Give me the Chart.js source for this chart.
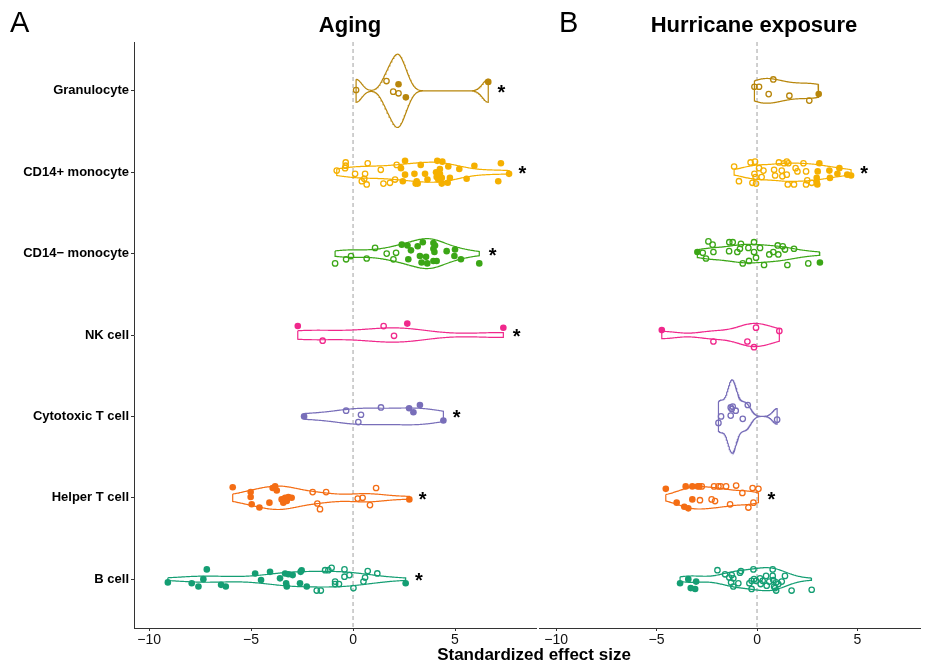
<!DOCTYPE html>
<html>
<head>
<meta charset="utf-8">
<script src="https://cdn.jsdelivr.net/npm/chart.js@4.4.1/dist/chart.umd.min.js"></script>
<style>
  body { margin: 0; background: #fff; }
  #wrap { position: relative; width: 925px; height: 667px; font-family: 'Liberation Sans', Arial, sans-serif; color: #000; }
  canvas { position: absolute; top: 0; }
  .lbl { position: absolute; white-space: nowrap; line-height: 1; }
</style>
</head>
<body>
<div id="wrap">
  <canvas id="canvas-a" width="537" height="667" style="left:0"></canvas>
  <canvas id="canvas-b" width="388" height="667" style="left:537px"></canvas>
  <div class="lbl" style="left:10px;top:8px;font-size:29px">A</div>
  <div class="lbl" style="left:559px;top:8px;font-size:29px">B</div>
  <div class="lbl" style="left:350px;top:14px;font-size:22px;font-weight:bold;transform:translateX(-50%)">Aging</div>
  <div class="lbl" style="left:754px;top:14px;font-size:22px;font-weight:bold;transform:translateX(-50%)">Hurricane exposure</div>
  <div class="lbl" style="left:534px;top:646px;font-size:17px;font-weight:bold;transform:translateX(-50%)">Standardized effect size</div>
</div>
<script>
// categories, top to bottom
const cellTypes = ['Granulocyte', 'CD14+ monocyte', 'CD14\u2212 monocyte', 'NK cell', 'Cytotoxic T cell', 'Helper T cell', 'B cell'];
const cellColors = ['#b8860b', '#f5b000', '#3ba616', '#f0288c', '#786eb9', '#f46d14', '#149e73'];
const xTicks = [-10, -5, 0, 5];

// points: [effect size, vertical jitter (category units), significant 1/0]
const agingGranulocyte = [[0.15,-0.01,0],[1.64,-0.12,0],[2.23,-0.08,1],[1.97,0.01,0],[2.23,0.03,0],[2.59,0.08,1],[6.63,-0.11,1]];
const agingCd14Pos = [
  [-0.80,-0.02,0],[-0.36,-0.12,0],[-0.36,-0.08,0],[-0.39,-0.05,0],[0.72,-0.11,0],[0.10,0.02,0],[0.59,0.02,0],[0.55,0.08,0],
  [0.43,0.11,0],[0.67,0.15,0],[1.36,-0.03,0],[1.49,0.14,0],[1.81,0.13,0],[2.06,0.09,0],[2.14,-0.09,0],
  [2.55,-0.14,1],[2.35,-0.05,1],[2.55,0.03,1],[2.44,0.11,1],[3.12,0.11,1],[3.07,0.14,1],[3.17,0.14,1],[3.32,-0.09,1],
  [3.01,0.02,1],[3.53,0.02,1],[3.65,0.09,1],[4.13,-0.14,1],[4.38,-0.13,1],[4.26,-0.04,1],[4.07,0,1],[4.26,0.02,1],
  [4.10,0.06,1],[4.35,0.07,1],[4.18,0.09,1],[4.35,0.14,1],[4.67,-0.07,1],[4.75,0.07,1],[4.64,0.13,1],[5.21,-0.04,1],
  [5.57,0.08,1],[5.95,-0.08,1],[7.25,-0.11,1],[7.12,0.11,1],[7.65,0.02,1]
];
const agingCd14Neg = [
  [-0.88,0.12,0],[-0.34,0.07,0],[-0.10,0.03,0],[0.67,0.06,0],[1.08,-0.07,0],[1.65,0,0],[2.11,-0.01,0],[1.98,0.07,0],
  [2.39,-0.11,1],[2.67,-0.10,1],[2.84,-0.04,1],[2.71,0.07,1],[3.17,-0.09,1],[3.42,-0.14,1],[3.28,0.03,1],[3.58,0.04,1],
  [3.36,0.11,1],[3.64,0.12,1],[3.94,-0.13,1],[4.02,-0.10,1],[3.94,-0.06,1],[3.99,-0.02,1],[3.94,0.09,1],[4.10,0.09,1],
  [4.59,-0.03,1],[5.00,-0.05,1],[4.97,0.03,1],[5.29,0.07,1],[6.19,0.12,1]
];
const agingNk = [[-2.71,-0.11,1],[-1.49,0.07,0],[1.50,-0.11,0],[2.01,0.01,0],[2.66,-0.14,1],[7.37,-0.09,1]];
const agingCytotoxic = [[-2.40,0,1],[-0.34,-0.07,0],[0.39,-0.02,0],[0.26,0.07,0],[1.37,-0.11,0],[2.75,-0.10,1],[3.28,-0.14,1],[2.96,-0.05,1],[4.43,0.05,1]];
const agingHelper = [
  [-5.90,-0.13,1],[-5.02,-0.07,1],[-5.02,-0.01,1],[-4.97,0.08,1],[-4.59,0.12,1],[-4.10,0.06,1],[-3.94,-0.12,1],[-3.82,-0.14,1],
  [-3.74,-0.09,1],[-3.50,0.02,1],[-3.42,0.06,1],[-3.33,0,1],[-3.25,0.04,1],[-3.17,-0.01,1],[-3.01,0,1],[2.76,0.02,1],
  [-1.98,-0.07,0],[-1.32,-0.07,0],[-1.75,0.07,0],[-1.62,0.14,0],[0.23,0.01,0],[0.47,0,0],[0.83,0.09,0],[1.13,-0.12,0]
];
const agingBcell = [
  [-9.08,0.04,1],[-7.91,0.05,1],[-7.58,0.09,1],[-7.34,0,1],[-7.17,-0.12,1],[-6.47,0.07,1],[-6.24,0.09,1],[-4.80,-0.07,1],
  [-4.51,0.01,1],[-4.07,-0.09,1],[-3.58,-0.01,1],[-3.33,-0.07,1],[-3.17,-0.06,1],[-2.96,-0.05,1],[-3.28,0.05,1],[-3.25,0.09,1],
  [-2.60,0.05,1],[-2.27,0.09,1],[-2.52,-0.11,1],[-2.57,-0.09,1],[2.58,0.05,1],
  [-1.78,0.14,0],[-1.58,0.14,0],[-1.37,-0.11,0],[-1.21,-0.11,0],[-1.05,-0.14,0],[-0.88,0.03,0],[-0.69,0.06,0],[-0.88,0.06,0],
  [-0.42,-0.12,0],[-0.42,-0.03,0],[-0.18,-0.05,0],[0.02,0.11,0],[0.51,0.03,0],[0.59,-0.02,0],[0.72,-0.10,0],[1.19,-0.07,0]
];

const hurricaneGranulocyte = [[-0.13,-0.05,0],[0.10,-0.05,0],[0.81,-0.14,0],[0.58,0.04,0],[1.61,0.06,0],[2.60,0.12,0],[3.07,0.04,1]];
const hurricaneCd14Pos = [
  [-1.14,-0.07,0],[-0.90,0.11,0],[-0.32,-0.12,0],[-0.10,-0.13,0],[-0.23,0.13,0],[-0.05,0.14,0],[-0.13,0.02,0],[-0.07,0.06,0],
  [0.10,-0.05,0],[0.32,-0.02,0],[0.23,0.06,0],[0.85,-0.03,0],[0.90,0.04,0],[1.23,-0.02,0],[1.26,0.05,0],[1.09,-0.12,0],
  [1.34,-0.11,0],[1.48,-0.13,0],[1.56,-0.11,0],[1.48,0.03,0],[1.53,0.15,0],[1.84,0.15,0],[1.92,-0.05,0],[2.01,-0.01,0],
  [2.31,-0.11,0],[2.44,-0.01,0],[2.50,0.10,0],[2.44,0.15,0],[2.72,0.13,0],
  [3.10,-0.11,1],[3.02,-0.01,1],[2.97,0.07,1],[2.97,0.12,1],[3.00,0.15,1],[3.60,-0.02,1],[3.63,0.07,1],[4.00,0.02,1],
  [4.10,-0.05,1],[4.49,0.03,1],[4.68,0.04,1]
];
const hurricaneCd14Neg = [
  [-2.97,-0.02,1],[3.13,0.11,1],
  [-2.70,-0.01,0],[-2.54,0.06,0],[-2.42,-0.15,0],[-2.21,-0.11,0],[-2.17,-0.02,0],[-1.38,-0.14,0],[-1.21,-0.14,0],[-1.39,-0.03,0],
  [-0.98,-0.02,0],[-0.85,-0.06,0],[-0.80,-0.12,0],[-0.71,0.12,0],[-0.43,-0.07,0],[-0.40,0.09,0],[-0.15,-0.14,0],[-0.15,-0.02,0],
  [-0.05,0.05,0],[0.15,-0.07,0],[0.35,0.14,0],[0.61,0.01,0],[0.81,-0.02,0],[1.06,0.01,0],[1.03,-0.10,0],[1.28,-0.09,0],
  [1.39,-0.05,0],[1.84,-0.06,0],[1.51,0.14,0],[2.55,0.12,0]
];
const hurricaneNk = [[-4.74,-0.06,1],[-2.17,0.08,0],[-0.48,0.08,0],[-0.15,0.15,0],[-0.05,-0.09,0],[1.11,-0.05,0]];
const hurricaneCytotoxic = [[-1.92,0.08,0],[-1.79,0,0],[-1.31,-0.11,0],[-1.21,-0.12,0],[-1.26,-0.09,0],[-1.06,-0.07,0],[-1.31,-0.01,0],[-0.71,0.03,0],[-0.46,-0.14,0],[1.00,0.04,0]];
const hurricaneHelper = [
  [-4.54,-0.11,1],[-4.00,0.06,1],[-3.55,-0.14,1],[-3.62,0.11,1],[-3.42,0.13,1],[-3.22,-0.14,1],[-3.22,0.02,1],[-2.95,-0.14,1],[-2.87,-0.14,1],
  [-2.84,0.03,0],[-2.75,-0.14,0],[-2.26,0.02,0],[-2.14,-0.14,0],[-2.09,0.04,0],[-1.92,-0.14,0],[-1.81,-0.14,0],[-1.54,-0.14,0],
  [-1.34,0.08,0],[-1.04,-0.15,0],[-0.73,-0.06,0],[-0.43,0.12,0],[-0.22,-0.12,0],[-0.18,0.06,0],[0.07,-0.11,0]
];
const hurricaneBcell = [
  [-3.83,0.05,1],[-3.42,0,1],[-3.03,0.03,1],[-3.30,0.11,1],[-3.08,0.12,1],
  [-1.97,-0.11,0],[-1.59,-0.06,0],[-1.38,-0.02,0],[-1.26,-0.05,0],[-1.18,-0.01,0],[-1.29,0.04,0],[-1.18,0.09,0],[-0.93,0.05,0],
  [-0.85,-0.08,0],[-0.80,-0.10,0],[-0.38,0.05,0],[-0.27,0.02,0],[-0.27,0.12,0],[-0.18,-0.12,0],[-0.15,0,0],[-0.05,0.02,0],
  [0.15,-0.01,0],[0.18,0.06,0],[0.28,0.02,0],[0.45,-0.04,0],[0.48,0.08,0],[0.61,0.03,0],[0.78,-0.12,0],[0.78,-0.04,0],
  [0.81,0.01,0],[0.85,0.09,0],[0.95,0.04,0],[0.90,0.11,0],[0.95,0.14,0],[1.06,0.06,0],[1.23,0.03,0],[1.39,-0.04,0],
  [1.72,0.14,0],[2.72,0.13,0]
];

const agingStars = [1, 1, 1, 1, 1, 1, 1];
const hurricaneStars = [0, 1, 0, 0, 0, 1, 0];

const agingGroups = [agingGranulocyte, agingCd14Pos, agingCd14Neg, agingNk, agingCytotoxic, agingHelper, agingBcell];
const hurricaneGroups = [hurricaneGranulocyte, hurricaneCd14Pos, hurricaneCd14Neg, hurricaneNk, hurricaneCytotoxic, hurricaneHelper, hurricaneBcell];

const FONT = "'Liberation Sans', Arial, sans-serif";

// gaussian kernel density, bandwidth as R's bw.nrd0
function q7(s, p) {
  const h = (s.length - 1) * p, lo = Math.floor(h);
  return s[lo] + (h - lo) * (s[Math.min(lo + 1, s.length - 1)] - s[lo]);
}
function bwNrd0(xs) {
  const n = xs.length;
  const m = xs.reduce((a, b) => a + b, 0) / n;
  const sd = Math.sqrt(xs.reduce((a, b) => a + (b - m) * (b - m), 0) / (n - 1));
  const s = xs.slice().sort((a, b) => a - b);
  let lo = Math.min(sd, (q7(s, 0.75) - q7(s, 0.25)) / 1.34);
  if (!lo) lo = sd || 1;
  return 0.9 * lo * Math.pow(n, -0.2);
}
function kde(xs, bw, at) {
  let sum = 0;
  xs.forEach(x => { const z = (at - x) / bw; sum += Math.exp(-0.5 * z * z); });
  return sum / (xs.length * bw * Math.sqrt(2 * Math.PI));
}

function violinProfiles(groups) {
  const profs = groups.map(pts => {
    const xs = pts.map(p => p[0]);
    const bw = bwNrd0(xs);
    const lo = Math.min(...xs), hi = Math.max(...xs);
    const grid = [];
    for (let k = 0; k <= 200; k++) {
      const x = lo + (hi - lo) * k / 200;
      grid.push([x, kde(xs, bw, x)]);
    }
    return grid;
  });
  const dmax = Math.max(...profs.map(g => Math.max(...g.map(d => d[1]))));
  return profs.map(g => g.map(d => [d[0], 0.45 * d[1] / dmax]));
}

function buildDatasets(groups) {
  const sets = [];
  const profs = violinProfiles(groups);
  groups.forEach((pts, i) => {
    const c = cellColors[i];
    sets.push({
      data: pts.filter(p => p[2]).map(p => ({ x: p[0], y: i + 1 + p[1] })),
      pointRadius: 3.3, pointBackgroundColor: c, pointBorderColor: c, pointBorderWidth: 0, order: 0
    });
    sets.push({
      data: pts.filter(p => !p[2]).map(p => ({ x: p[0], y: i + 1 + p[1] })),
      pointRadius: 2.7, pointBackgroundColor: 'rgba(255,255,255,0)', pointBorderColor: c, pointBorderWidth: 1.3, order: 0
    });
    const top = profs[i].map(d => ({ x: d[0], y: i + 1 - d[1] }));
    const bottom = profs[i].slice().reverse().map(d => ({ x: d[0], y: i + 1 + d[1] }));
    sets.push({
      data: top.concat(bottom, [top[0]]),
      showLine: true, pointRadius: 0, borderColor: c, borderWidth: 1.2, tension: 0, order: 1
    });
  });
  sets.push({
    data: [{ x: 0, y: 0.4 }, { x: 0, y: 7.6 }],
    showLine: true, pointRadius: 0, borderColor: '#a0a0a0', borderWidth: 1, borderDash: [4, 3], order: 2
  });
  return sets;
}

function starPlugin(groups, flags) {
  return {
    id: 'stars',
    afterDatasetsDraw(chart) {
      const { ctx, scales: { x, y } } = chart;
      ctx.save();
      ctx.fillStyle = '#000';
      ctx.font = 'bold 20px ' + FONT;
      ctx.textAlign = 'center';
      ctx.textBaseline = 'alphabetic';
      groups.forEach((pts, i) => {
        if (!flags[i]) return;
        const hi = Math.max(...pts.map(p => p[0]));
        ctx.fillText('*', x.getPixelForValue(hi + 0.65), y.getPixelForValue(i + 1) + 8);
      });
      ctx.restore();
    }
  };
}

function makeChart(id, groups, flags, xMin, xMax, showY, padding) {
  return new Chart(document.getElementById(id), {
    type: 'scatter',
    data: { datasets: buildDatasets(groups) },
    options: {
      responsive: false,
      animation: false,
      layout: { padding: padding, autoPadding: false },
      plugins: { legend: { display: false }, tooltip: { enabled: false } },
      scales: {
        x: {
          type: 'linear', min: xMin, max: xMax,
          afterBuildTicks: s => { s.ticks = xTicks.map(v => ({ value: v })); },
          afterFit: s => { s.height = 39; },
          grid: { drawOnChartArea: false, drawTicks: true, tickLength: 3, color: '#333' },
          border: { display: true, color: '#333', width: 1 },
          ticks: {
            color: '#111', padding: 1, maxRotation: 0,
            font: { family: FONT, size: 14 },
            callback: v => String(v).replace('-', '\u2212')
          }
        },
        y: {
          type: 'linear', min: 0.4, max: 7.6, reverse: true, display: showY,
          afterBuildTicks: s => { s.ticks = cellTypes.map((c, i) => ({ value: i + 1 })); },
          afterFit: s => { s.width = showY ? 134 : 0; },
          grid: { drawOnChartArea: false, drawTicks: true, tickLength: 3, color: '#333' },
          border: { display: true, color: '#333', width: 1 },
          ticks: {
            color: '#000', padding: 2, autoSkip: false,
            font: { family: FONT, size: 13, weight: 'bold' },
            callback: v => cellTypes[Math.round(v) - 1]
          }
        }
      }
    },
    plugins: [starPlugin(groups, flags)]
  });
}

// eslint-disable-next-line no-unused-vars
const agingChart = makeChart('canvas-a', agingGroups, agingStars, -10.74, 9.02, true, { top: 42, right: 0, bottom: 0, left: 0 });
// eslint-disable-next-line no-unused-vars
const hurricaneChart = makeChart('canvas-b', hurricaneGroups, hurricaneStars, -10.85, 8.11, false, { top: 42, right: 5, bottom: 0, left: 2 });
</script>
</body>
</html>
